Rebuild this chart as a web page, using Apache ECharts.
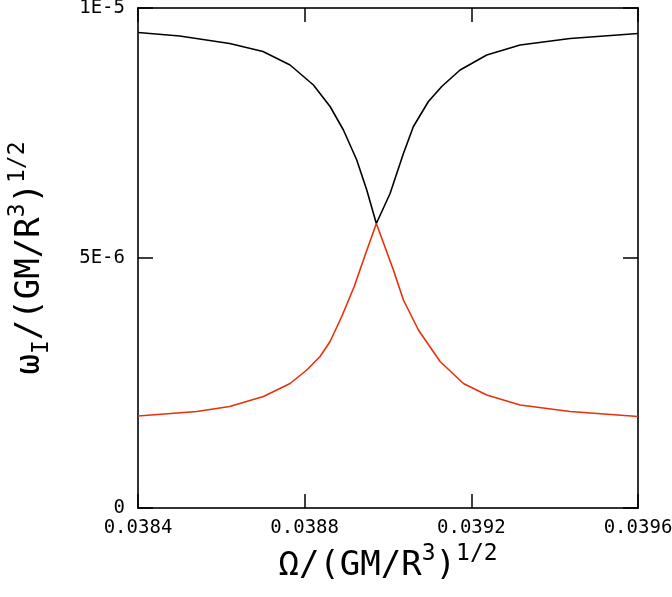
<!DOCTYPE html>
<html>
<head>
<meta charset="utf-8">
<script src="https://cdn.jsdelivr.net/npm/echarts@6/dist/echarts.min.js"></script>
<style>html,body{margin:0;padding:0;background:#fff}#c{width:672px;height:597px}</style>
</head>
<body>
<div id="c"></div>
<script>
// Black branch
const xBlack = [0.03840, 0.03850, 0.03862, 0.03870, 0.038765, 0.038821, 0.038861, 0.038893, 0.038925, 0.038949, 0.038972,
                0.039005, 0.039037, 0.039061, 0.039097, 0.039129, 0.039173, 0.039237, 0.039317, 0.039437, 0.03960];
const yBlack = [9.51e-6, 9.44e-6, 9.29e-6, 9.13e-6, 8.86e-6, 8.46e-6, 8.03e-6, 7.56e-6, 6.96e-6, 6.36e-6, 5.69e-6,
                6.29e-6, 7.09e-6, 7.63e-6, 8.13e-6, 8.43e-6, 8.76e-6, 9.06e-6, 9.26e-6, 9.39e-6, 9.49e-6];
// Red branch
const xRed = [0.03840, 0.038541, 0.03862, 0.038701, 0.038765, 0.038805, 0.038837, 0.038861, 0.038889, 0.038919, 0.038941, 0.038972,
              0.039013, 0.039037, 0.039073, 0.039125, 0.039181, 0.039237, 0.039317, 0.039437, 0.03960];
const yRed = [1.84e-6, 1.93e-6, 2.03e-6, 2.23e-6, 2.49e-6, 2.76e-6, 3.03e-6, 3.33e-6, 3.83e-6, 4.43e-6, 4.96e-6, 5.69e-6,
              4.76e-6, 4.16e-6, 3.56e-6, 2.93e-6, 2.49e-6, 2.26e-6, 2.06e-6, 1.93e-6, 1.83e-6];
// Tick labels
const xTickLabels = ['0.0384', '0.0388', '0.0392', '0.0396'];
const yTickLabels = ['0', '5E-6', '1E-5'];

const X_MIN = 0.0384, X_MAX = 0.0396, X_INT = 0.0004;
const Y_MIN = 0, Y_MAX = 1e-5, Y_INT = 5e-6;

const mono = 'DejaVu Sans Mono';
const titleFont = 'DejaVu Sans Mono';
const axisColor = '#333';

function xLab(v) { const i = Math.round((v - X_MIN) / X_INT); return xTickLabels[i] ?? ''; }
function yLab(v) { const i = Math.round((v - Y_MIN) / Y_INT); return yTickLabels[i] ?? ''; }

const richT = {
  m: { fontFamily: titleFont, fontSize: 34, color: '#000' },
  sup: { fontFamily: titleFont, fontSize: 23, color: '#000', verticalAlign: 'bottom', padding: [0, 0, 24, 0] },
  sub: { fontFamily: titleFont, fontSize: 23, color: '#000', verticalAlign: 'bottom', padding: [0, 0, 0, 0] }
};

const tickStyle = { show: true, inside: true, lineStyle: { color: '#000', width: 1.5 } };
const lineStyleAx = { show: true, onZero: false, lineStyle: { color: axisColor, width: 2 } };

const chart = echarts.init(document.getElementById('c'), null, { renderer: 'canvas' });
chart.setOption({
  animation: false,
  backgroundColor: '#fff',
  grid: { left: 138, right: 34, top: 8, bottom: 89, show: false, containLabel: false, outerBoundsMode: 'none' },
  xAxis: [{
    type: 'value', min: X_MIN, max: X_MAX, interval: X_INT,
    axisLine: lineStyleAx,
    axisTick: Object.assign({ length: 14 }, tickStyle),
    splitLine: { show: false },
    axisLabel: { formatter: xLab, fontFamily: mono, fontSize: 19, color: '#000', margin: 11 },
    name: '{m|Ω/(GM/R}{sup|3}{m|)}{sup|1/2}',
    nameLocation: 'middle', nameGap: 34,
    nameTextStyle: { rich: richT }
  }, {
    type: 'value', position: 'top', min: X_MIN, max: X_MAX, interval: X_INT,
    axisLine: lineStyleAx,
    axisTick: Object.assign({ length: 14 }, tickStyle),
    splitLine: { show: false }, axisLabel: { show: false }
  }],
  yAxis: [{
    type: 'value', min: Y_MIN, max: Y_MAX, interval: Y_INT,
    axisLine: lineStyleAx,
    axisTick: Object.assign({ length: 15 }, tickStyle),
    splitLine: { show: false },
    axisLabel: { formatter: yLab, fontFamily: mono, fontSize: 19, color: '#000', margin: 13 },
    name: '{m|ω}{sub|I}{m|/(GM/R}{sup|3}{m|)}{sup|1/2}',
    nameLocation: 'middle', nameGap: 84, nameRotate: 90,
    nameTextStyle: { rich: richT }
  }, {
    type: 'value', position: 'right', min: Y_MIN, max: Y_MAX, interval: Y_INT,
    axisLine: lineStyleAx,
    axisTick: Object.assign({ length: 15 }, tickStyle),
    splitLine: { show: false }, axisLabel: { show: false }
  }],
  series: [{
    type: 'line', xAxisIndex: 0, yAxisIndex: 0, showSymbol: false, symbol: 'none',
    data: xBlack.map((x, i) => [x, yBlack[i]]),
    lineStyle: { color: '#000', width: 1.6 }
  }, {
    type: 'line', xAxisIndex: 0, yAxisIndex: 0, showSymbol: false, symbol: 'none',
    data: xRed.map((x, i) => [x, yRed[i]]),
    lineStyle: { color: '#e8300a', width: 1.6 }
  }]
});
</script>
</body>
</html>
